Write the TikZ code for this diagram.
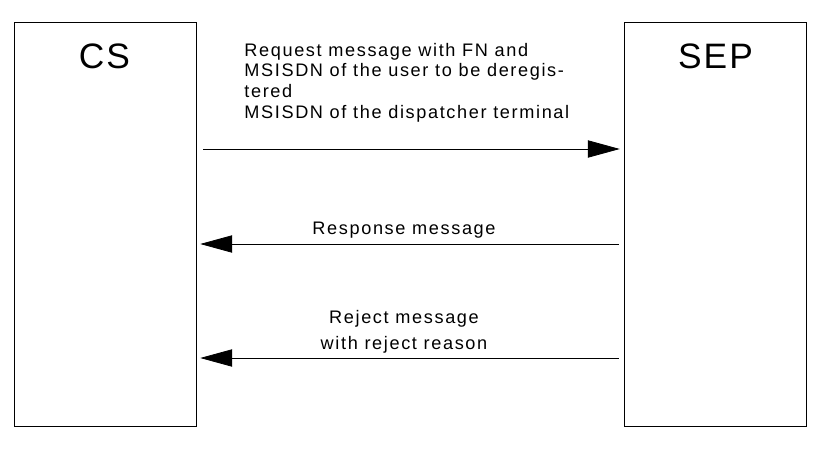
\documentclass[tikz,border=0pt]{standalone}
\usepackage{fontspec}
\setmainfont{Liberation Sans}
\newfontfamily\msgfont[LetterSpace=9]{Liberation Sans}
\newfontfamily\titlefont[LetterSpace=6]{Liberation Sans}
\usetikzlibrary{arrows.meta}

\begin{document}
\begin{tikzpicture}[x=0.75pt, y=-0.75pt, line width=0.6pt,
    entity/.style = {draw, rectangle, minimum width=137pt, minimum height=303pt, inner sep=0pt},
    title/.style = {font=\titlefont\fontsize{26.5}{30}\selectfont},
    msg/.style = {font=\msgfont\fontsize{13.6}{15.5}\selectfont, inner sep=0pt},
    flow/.style = {-{Triangle[length=24pt, width=13pt]}}]
    \useasboundingbox (0,0) rectangle (827,449);
    \node[entity] (cs) at (105.5,224) {};
    \node[entity] (sep) at (715.5,224) {};
    \node[title] (cstitle) at (104.5,56) {CS};
    \node[title] (septitle) at (715.5,56) {SEP};
    \draw[flow, shorten <=6pt*0.75, shorten >=4pt*0.75] (cs.east |- 0,149) -- (sep.west |- 0,149);
    \draw[flow, shorten <=5pt*0.75, shorten >=3pt*0.75] (sep.west |- 0,244) -- (cs.east |- 0,244);
    \draw[flow, shorten <=5pt*0.75, shorten >=3pt*0.75] (sep.west |- 0,358) -- (cs.east |- 0,358);
    \node[msg, anchor=base west, align=left] (req) at (244,118)
        {Request message with FN and\\MSISDN of the user to be deregis-\\tered\\MSISDN of the dispatcher terminal};
    \node[msg, anchor=base] (resp) at (404,234) {Response message};
    \node[msg, anchor=base, align=center, font=\msgfont\fontsize{13.6}{19.5}\selectfont] (rej) at (404,349)
        {Reject message\\with reject reason};
\end{tikzpicture}
\end{document}
